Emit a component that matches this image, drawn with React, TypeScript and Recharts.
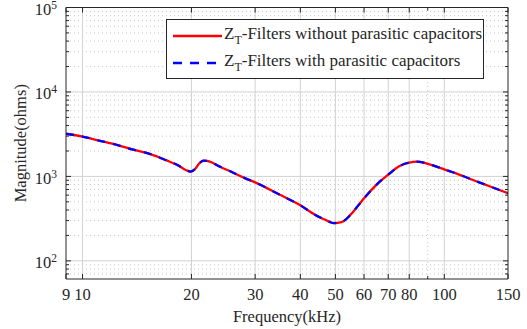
import { LineChart, Line, XAxis, YAxis, ReferenceLine, Legend } from "recharts";

// frequency (kHz) and impedance magnitude (ohms)
const freqKHz = [
  9, 10, 11.1, 12.5, 13.8, 15.4, 17, 18.5, 19.3, 19.9, 20.5, 21, 21.6, 22.5, 24, 25.6, 28, 30,
  35, 40, 44, 47, 49.5, 52, 55, 58, 60, 65, 70, 75, 80, 84, 91, 100, 110, 123, 135, 150,
];
const zWithoutParasitic = [
  3200, 2960, 2660, 2350, 2070, 1840, 1560, 1330, 1190, 1140, 1230, 1420, 1540, 1500, 1300, 1150, 960, 850,
  610, 455, 350, 305, 280, 288, 350, 460, 550, 800, 1050, 1320, 1460, 1495, 1390, 1210, 1050, 870, 750, 632,
];
const zWithParasitic = [
  3200, 2960, 2660, 2350, 2070, 1840, 1560, 1330, 1190, 1140, 1230, 1420, 1540, 1500, 1300, 1150, 960, 850,
  610, 455, 350, 305, 280, 288, 350, 460, 550, 800, 1050, 1320, 1460, 1495, 1390, 1210, 1050, 870, 750, 632,
];

const xTickLabels = [9, 10, 20, 30, 40, 50, 60, 70, 80, 100, 150];
const xTicks = [9, 10, 20, 30, 40, 50, 60, 70, 80, 90, 100, 150];
const xGridMajor = [10, 20, 30, 40, 50, 60, 70, 80, 100];
const xGridMinor = [90];

const yTickLabels = [100, 1000, 10000, 100000];
const yGridMajor = [100, 1000, 10000];
const yGridMinor = [
  70, 80, 90,
  200, 300, 400, 500, 600, 700, 800, 900,
  2000, 3000, 4000, 5000, 6000, 7000, 8000, 9000,
  20000, 30000, 40000, 50000, 60000, 70000, 80000, 90000,
];
const yTicks = [...yGridMinor, ...yTickLabels].sort((a, b) => a - b);

const legendItems = [
  { label: "-Filters without parasitic capacitors", color: "#ff0000", dash: undefined },
  { label: "-Filters with parasitic capacitors", color: "#0000ff", dash: "9 8" },
];

const data = freqKHz.map((f, i) => ({ f, z0: zWithoutParasitic[i], z1: zWithParasitic[i] }));

const W = 527;
const H = 329;
const PLOT_W = 442;
const PLOT_H = 271.5;
const INK = "#262626";
const FONT = "Liberation Serif";

function XTick(props: any) {
  const { x, y, payload } = props;
  const v = payload.value;
  const labeled = xTickLabels.includes(v);
  const len = labeled ? 5 : 3;
  return (
    <g>
      <line x1={x} x2={x} y1={y} y2={y - len} stroke={INK} />
      <line x1={x} x2={x} y1={y - PLOT_H} y2={y - PLOT_H + len} stroke={INK} />
      {labeled && (
        <text x={x} y={y + 21} textAnchor="middle" fontSize={16.5} fill={INK} style={{ fontFamily: FONT }}>
          {v}
        </text>
      )}
    </g>
  );
}

function YTick(props: any) {
  const { x, y, payload } = props;
  const v = payload.value;
  const major = yTickLabels.includes(v);
  const len = major ? 5 : 3;
  return (
    <g>
      <line x1={x} x2={x + len} y1={y} y2={y} stroke={INK} />
      <line x1={x + PLOT_W} x2={x + PLOT_W - len} y1={y} y2={y} stroke={INK} />
      {major && (
        <text x={x - 9} y={y + 7.5} textAnchor="end" fontSize={16.5} fill={INK} style={{ fontFamily: FONT }}>
          10
          <tspan dy={-6} fontSize={11.5}>
            {Math.round(Math.log10(v))}
          </tspan>
        </text>
      )}
    </g>
  );
}

function LegendBox() {
  return (
    <div
      style={{
        width: 316,
        height: 58,
        border: `1px solid ${INK}`,
        background: "#fff",
        fontFamily: FONT,
        fontSize: 17,
        color: INK,
        position: "relative",
      }}
    >
      {legendItems.map((item, i) => (
        <div key={i} style={{ position: "absolute", left: 6, top: 4 + i * 27, height: 24, display: "flex", alignItems: "center" }}>
          <svg width={49} height={6} style={{ marginRight: 2 }}>
            <line x1={0} x2={49} y1={3} y2={3} stroke={item.color} strokeWidth={2.5} strokeDasharray={item.dash} />
          </svg>
          <span style={{ whiteSpace: "nowrap" }}>
            Z<sub style={{ fontSize: 12, verticalAlign: -5 }}>T</sub>
            {item.label}
          </span>
        </div>
      ))}
    </div>
  );
}

export default function App() {
  return (
    <div style={{ position: "absolute", left: 0, top: 0, width: W, height: H, background: "#fff", fontFamily: FONT }}>
      <LineChart width={W} height={H} data={data} margin={{ top: 7.5, right: 0, bottom: 0, left: 0 }} style={{ fontFamily: FONT }}>
        {yGridMinor.map((v) => (
          <ReferenceLine key={`ym${v}`} y={v} stroke="#c8c8c8" strokeDasharray="1 3" />
        ))}
        {xGridMinor.map((v) => (
          <ReferenceLine key={`xm${v}`} x={v} stroke="#c8c8c8" strokeDasharray="1 3" />
        ))}
        {yGridMajor.map((v) => (
          <ReferenceLine key={`yM${v}`} y={v} stroke="#d2d2d2" />
        ))}
        {xGridMajor.map((v) => (
          <ReferenceLine key={`xM${v}`} x={v} stroke="#d2d2d2" />
        ))}
        <ReferenceLine y={100000} stroke={INK} />
        <XAxis
          dataKey="f"
          type="number"
          scale="log"
          domain={[9, 150]}
          allowDataOverflow
          ticks={xTicks}
          interval={0}
          tick={<XTick />}
          tickLine={false}
          tickSize={0}
          tickMargin={0}
          axisLine={{ stroke: INK }}
          height={50}
          label={({ viewBox }: any) => (
            <text
              x={viewBox.x + viewBox.width / 2}
              y={viewBox.y + 43}
              textAnchor="middle"
              fontSize={16.5}
              fill={INK}
              style={{ fontFamily: FONT }}
            >
              Frequency(kHz)
            </text>
          )}
        />
        <YAxis
          type="number"
          scale="log"
          domain={[61, 100000]}
          allowDataOverflow
          ticks={yTicks}
          interval={0}
          tick={<YTick />}
          tickLine={false}
          tickSize={0}
          tickMargin={0}
          axisLine={{ stroke: INK }}
          width={66}
          label={({ viewBox }: any) => (
            <text
              x={viewBox.x + 26}
              y={viewBox.y + viewBox.height / 2}
              transform={`rotate(-90 ${viewBox.x + 26} ${viewBox.y + viewBox.height / 2})`}
              textAnchor="middle"
              fontSize={16.5}
              fill={INK}
              style={{ fontFamily: FONT }}
            >
              Magnitude(ohms)
            </text>
          )}
        />
        <YAxis
          yAxisId="right"
          orientation="right"
          type="number"
          scale="log"
          domain={[61, 100000]}
          allowDataOverflow
          tick={false}
          tickLine={false}
          axisLine={{ stroke: INK }}
          width={19}
        />
        <Line
          dataKey="z0"
          type="monotone"
          stroke="#ff0000"
          strokeWidth={2.3}
          dot={false}
          isAnimationActive={false}
        />
        <Line
          dataKey="z1"
          type="monotone"
          stroke="#0000ff"
          strokeWidth={2.3}
          strokeDasharray="8 8"
          dot={false}
          isAnimationActive={false}
        />
        <Legend
          layout="vertical"
          align="center"
          verticalAlign="middle"
          content={() => <LegendBox />}
          wrapperStyle={{ left: 166, top: 19, width: 318 }}
        />
      </LineChart>
    </div>
  );
}
